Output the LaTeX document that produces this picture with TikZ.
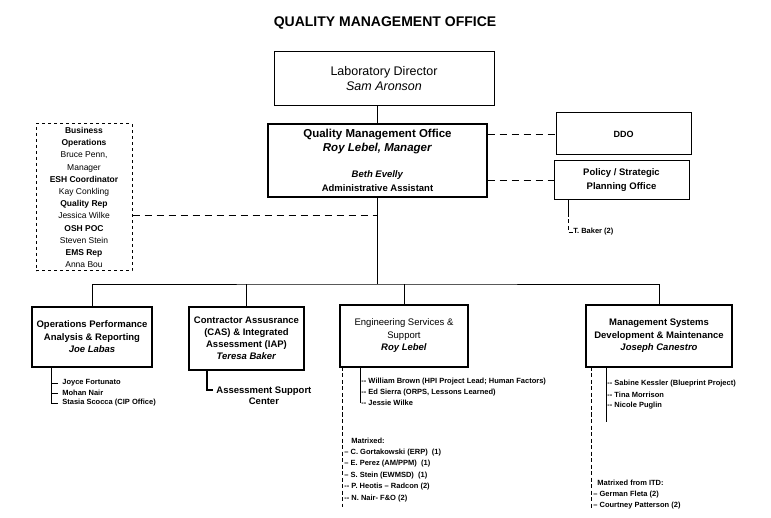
\documentclass[tikz,border=0pt]{standalone}
\usepackage{fontspec}
\setmainfont{Liberation Sans}
\usepackage{tikz}
\tikzstyle{unit}=[rectangle, draw, line width=1pt, align=center, inner sep=2pt]
\tikzstyle{branch}=[unit, line width=1.6pt, font=\fontsize{9.5}{12.5}\selectfont\bfseries]
\tikzstyle{member}=[anchor=west, inner sep=0pt, font=\fontsize{7.5}{9}\selectfont\bfseries]
\tikzstyle{link}=[dash pattern=on 7pt off 5pt]
\tikzstyle{tie}=[dash pattern=on 4pt off 2.5pt]
\newcommand{\assist}{\fontsize{9.5}{13}\selectfont}

\begin{document}
\begin{tikzpicture}[x=1pt, y=-1pt, thick]
                    \useasboundingbox (0,0) rectangle (771,518);
                    \node[font=\fontsize{14}{16}\selectfont\bfseries] (title) at (385,23) {QUALITY MANAGEMENT OFFICE};
                    \node[unit, minimum width=220pt, minimum height=54pt, font=\fontsize{12.5}{15}\selectfont] (director) at (384,79) {Laboratory Director\\\textit{Sam Aronson}};
                    \node[unit, line width=1.3pt, minimum width=219pt, minimum height=73pt, font=\fontsize{11.5}{14}\selectfont\bfseries] (qmo) at (377.5,160.5)
                        {Quality Management Office\\\textit{Roy Lebel, Manager}\\[12pt]\assist\textit{Beth Evelly}\\\assist Administrative Assistant};
                    \node[unit, dashed, minimum width=96pt, minimum height=147pt, font=\fontsize{8.5}{12.2}\selectfont] (business) at (84,197.5)
                        {\textbf{Business}\\\textbf{Operations}\\Bruce Penn,\\Manager\\\textbf{ESH Coordinator}\\Kay Conkling\\\textbf{Quality Rep}\\Jessica Wilke\\\textbf{OSH POC}\\Steven Stein\\\textbf{EMS Rep}\\Anna Bou};
                    \node[unit, minimum width=135pt, minimum height=42pt, font=\fontsize{9}{12}\selectfont\bfseries] (ddo) at (623.5,134) {DDO};
                    \node[unit, minimum width=135pt, minimum height=39pt, font=\fontsize{9.5}{14}\selectfont\bfseries] (policy) at (621.5,180.5) {Policy / Strategic\\Planning Office};
                    \node[member] (tbaker) at (573,232) {T. Baker (2)};

                    \node[branch, minimum width=120pt, minimum height=60pt] (opar) at (92,337) {Operations Performance\\Analysis \& Reporting\\\textit{Joe Labas}};
                    \node[branch, minimum width=115pt, minimum height=63pt, font=\fontsize{9.5}{12}\selectfont\bfseries] (cas) at (246.5,338.5) {Contractor Assusrance\\(CAS) \& Integrated\\Assessment (IAP)\\\textit{Teresa Baker}};
                    \node[branch, minimum width=128pt, minimum height=62pt, font=\fontsize{9.5}{12.5}\selectfont] (ess) at (404,336) {Engineering Services \&\\Support\\\textbf{\textit{Roy Lebel}}};
                    \node[branch, minimum width=146pt, minimum height=62pt] (msdm) at (659,336) {Management Systems\\Development \& Maintenance\\\textit{Joseph Canestro}};

                    \coordinate (bus) at (378,284);
                    \coordinate (bizjoin) at (378,215);
                    \draw (qmo.north) -- (qmo.north |- director.south);
                    \draw (qmo.south) -- (qmo.south |- bus);
                    \draw (opar.north) |- (bus) -| (msdm.north);
                    \draw (cas.north) -- (cas.north |- bus);
                    \draw (ess.north) -- (ess.north |- bus);
                    \draw[link] (business.east |- bizjoin) -- (bizjoin);
                    \draw[link] (qmo.east |- ddo.west) -- (ddo.west);
                    \draw[link] (qmo.east |- policy.west) -- (policy.west);

                    \coordinate (pstem) at (568,200);
                    \draw (pstem) -- ++(0,13) coordinate (pmid);
                    \draw[tie] (pmid) |- (tbaker.west);

                    \node[member, inner xsep=4pt] (fortunato) at (58,383) {Joyce Fortunato};
                    \node[member, inner xsep=4pt] (nair) at (58,393) {Mohan Nair};
                    \node[member, inner xsep=4pt] (scocca) at (58,403) {Stasia Scocca (CIP Office)};
                    \coordinate (oparstem) at (51,367);
                    \draw (oparstem) |- (scocca.west);
                    \draw (oparstem |- fortunato.west) -- (fortunato.west);
                    \draw (oparstem |- nair.west) -- (nair.west);

                    \node[member, anchor=north west, inner xsep=3pt, align=center, font=\fontsize{9.5}{11.5}\selectfont\bfseries] (support) at (213,386) {Assessment Support\\Center};
                    \coordinate (casstem) at (207,370);
                    \draw[line width=1.3pt] (casstem) |- ([yshift=5.5pt]support.west);

                    \node[member] (brown) at (361,382) {-{}- William Brown (HPI Project Lead; Human Factors)};
                    \node[member] (sierra) at (361,392.5) {-{}- Ed Sierra (ORPS, Lessons Learned)};
                    \node[member] (wilke) at (361,403) {-{}- Jessie Wilke};
                    \coordinate (essstem) at (360,367);
                    \draw (essstem) -- (essstem |- wilke.west);

                    \node[member] (matrixed) at (351,441) {Matrixed:};
                    \node[member] (gortakowski) at (344,453) {-- C. Gortakowski (ERP)~~(1)};
                    \node[member] (perez) at (344,464) {-- E. Perez (AM/PPM)~~(1)};
                    \node[member] (stein) at (344,476) {-- S. Stein (EWMSD)~~(1)};
                    \node[member] (heotis) at (344,487) {-{}- P. Heotis -- Radcon (2)};
                    \node[member] (nnair) at (344,499) {-{}- N. Nair- F\&O (2)};
                    \coordinate (esslink) at (342,367);
                    \coordinate (essend) at (342,507);
                    \draw[tie] (esslink) -- (essend);

                    \node[member] (kessler) at (607,384) {-{}- Sabine Kessler (Blueprint Project)};
                    \node[member] (morrison) at (607,395) {-{}- Tina Morrison};
                    \node[member] (puglin) at (607,405.5) {-{}- Nicole Puglin};
                    \coordinate (msdmstem) at (606,367);
                    \coordinate (msdmend) at (606,422);
                    \draw (msdmstem) -- (msdmend);

                    \node[member] (itd) at (597,483) {Matrixed from ITD:};
                    \node[member] (fleta) at (593,494.5) {-- German Fleta (2)};
                    \node[member] (patterson) at (593,506) {-- Courtney Patterson (2)};
                    \coordinate (msdmlink) at (591,367);
                    \coordinate (msdmlinkend) at (591,508);
                    \draw[tie] (msdmlink) -- (msdmlinkend);
                \end{tikzpicture}
\end{document}
